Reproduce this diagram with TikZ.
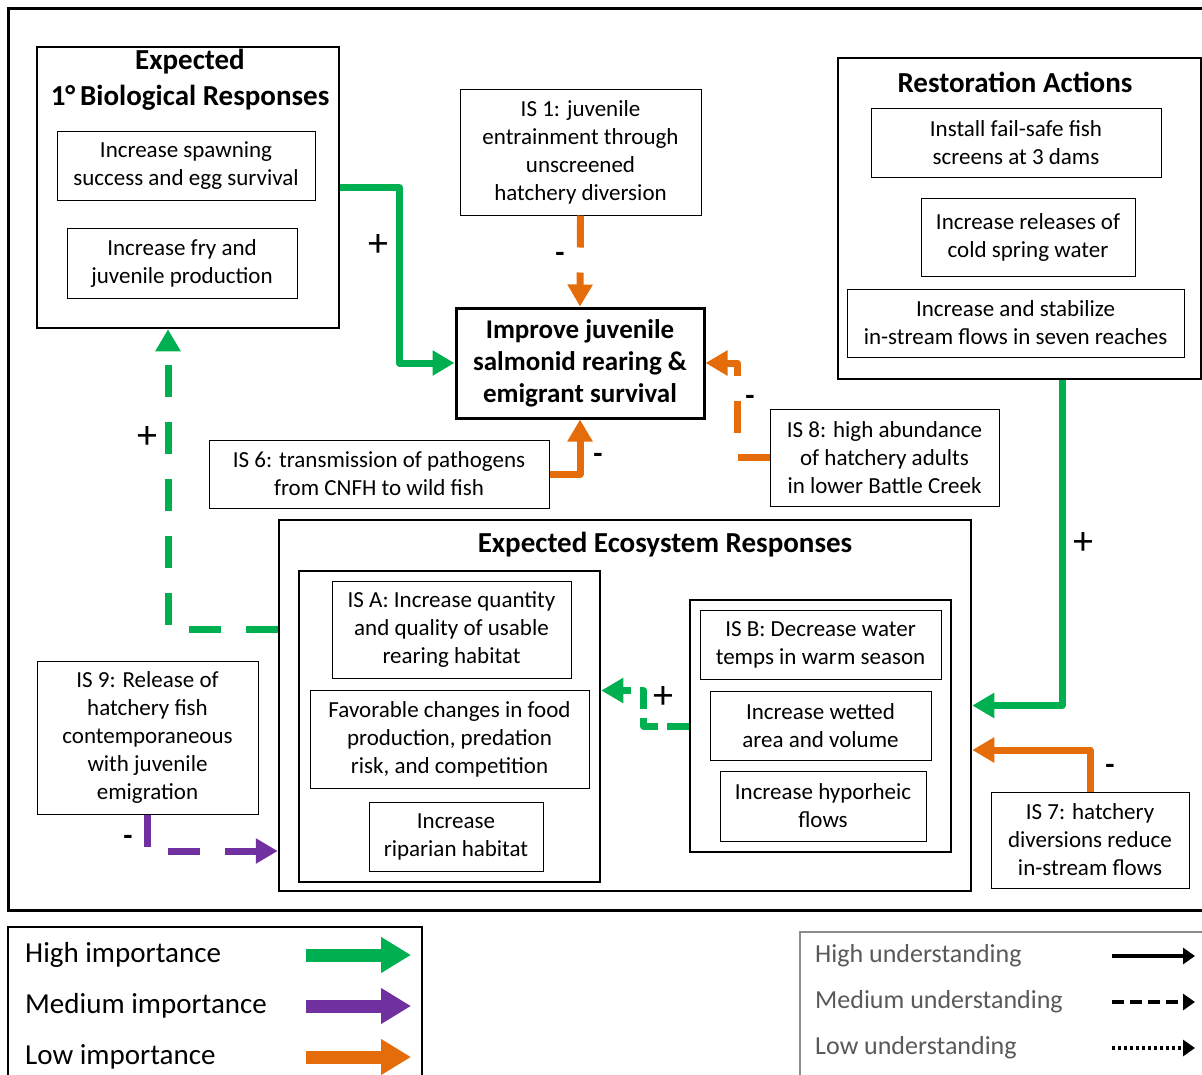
\documentclass[tikz,border=0pt]{standalone}
\usepackage{fontspec}
\setmainfont{Carlito}
\usetikzlibrary{arrows.meta}

\definecolor{cgreen}{RGB}{0,176,80}
\definecolor{corange}{RGB}{228,108,10}
\definecolor{cpurple}{RGB}{112,48,160}
\definecolor{lgray}{RGB}{89,89,89}

\tikzset{
  txt/.style={font=\fontsize{23}{28}\selectfont, align=center},
  bx/.style={txt, draw, line width=1pt, inner sep=0pt},
  grp/.style={draw, line width=2.5pt, inner sep=0pt},
  ttl/.style={font=\fontsize{29}{36}\selectfont\bfseries, align=center, inner sep=0pt},
  conn/.style={line width=7pt, line join=round, -{Triangle[width=24pt,length=22pt]}},
  dsh/.style={dash pattern=on 32pt off 25pt},
  shortdsh/.style={dash pattern=on 22pt off 9pt},
  sgn/.style={font=\fontsize{40}{40}\selectfont, inner sep=0pt},
  neg/.style={font=\fontsize{30}{30}\selectfont\bfseries, inner sep=0pt},
  legtxt/.style={font=\fontsize{29}{32}\selectfont, anchor=west, inner sep=0pt},
  undtxt/.style={font=\fontsize{26}{30}\selectfont, text=lgray, anchor=west, inner sep=0pt},
  imparrow/.style={line width=13pt, -{Triangle[width=34pt,length=30pt]}},
  undarrow/.style={line width=4pt, black, -{Triangle[width=16pt,length=12pt]}},
}

\begin{document}
\begin{tikzpicture}[x=1pt,y=-1pt]
\useasboundingbox (0,0) rectangle (1202,1074);

% outer frame
\draw[line width=3pt] (8,8) rectangle (1206,910);

% group containers
\node[grp, minimum width=302pt, minimum height=281pt] (bio) at (188,187.5) {};
\node[grp, minimum width=363pt, minimum height=321pt] (rest) at (1019.5,218.5) {};
\node[grp, minimum width=692pt, minimum height=371pt] (eco) at (625,705.5) {};
\node[grp, minimum width=301pt, minimum height=311pt] (lbox) at (449.5,726.5) {};
\node[grp, minimum width=261pt, minimum height=252pt] (rbox) at (820.5,726) {};

% group titles
\node[ttl] (biot) at (190,80) {Expected\\1°\,Biological Responses};
\node[ttl] (restt) at (1015,82) {Restoration Actions};
\node[ttl] (ecot) at (665,545) {Expected Ecosystem Responses};

% biological responses
\node[bx, minimum width=258pt, minimum height=69pt] (spawn) at (186,165.5) {Increase spawning\\success and egg survival};
\node[bx, minimum width=230pt, minimum height=70pt] (fry) at (182,263) {Increase fry and\\juvenile production};

% central outcome
\node[draw, line width=3pt, inner sep=0pt, align=center, minimum width=248pt, minimum height=110pt,
      font=\fontsize{27}{32}\selectfont\bfseries] (goal) at (580,363)
      {Improve juvenile\\salmonid rearing \&\\emigrant survival};

% stressors around the outcome
\node[bx, minimum width=241pt, minimum height=126pt] (is1) at (580.5,152) {IS 1: juvenile\\entrainment through\\unscreened\\hatchery diversion};
\node[bx, minimum width=229pt, minimum height=97pt] (is8) at (884.5,457.5) {IS 8: high abundance\\of hatchery adults\\in lower Battle Creek};
\node[bx, minimum width=340pt, minimum height=68pt] (is6) at (379,474) {IS 6: transmission of pathogens\\from CNFH to wild fish};

% restoration actions
\node[bx, minimum width=290pt, minimum height=69pt] (screens) at (1016,142.5) {Install fail-safe fish\\screens at 3 dams};
\node[bx, minimum width=214pt, minimum height=78pt] (cold) at (1028,237) {Increase releases of\\cold spring water};
\node[bx, minimum width=337pt, minimum height=68pt] (flows) at (1015.5,323) {Increase and stabilize\\in-stream flows in seven reaches};

% ecosystem responses
\node[bx, minimum width=239pt, minimum height=97pt] (isa) at (451.5,629.5) {IS A: Increase quantity\\and quality of usable\\rearing habitat};
\node[bx, minimum width=279pt, minimum height=98pt] (food) at (449.5,739) {Favorable changes in food\\production, predation\\risk, and competition};
\node[bx, minimum width=174pt, minimum height=69pt] (ripa) at (456,836.5) {Increase\\riparian habitat};
\node[bx, minimum width=241pt, minimum height=69pt] (isb) at (820.5,644.5) {IS B: Decrease water\\temps in warm season};
\node[bx, minimum width=221pt, minimum height=69pt] (wet) at (820.5,725.5) {Increase wetted\\area and volume};
\node[bx, minimum width=206pt, minimum height=70pt] (hyp) at (823,806) {Increase hyporheic\\flows};

% lower stressors
\node[bx, minimum width=221pt, minimum height=153pt] (is9) at (147.5,737.5) {IS 9: Release of\\hatchery fish\\contemporaneous\\with juvenile\\emigration};
\node[bx, minimum width=198pt, minimum height=96pt] (is7) at (1090,840) {IS 7: hatchery\\diversions reduce\\in-stream flows};

% connectors
\draw[conn, cgreen] (bio.east) -- ++(59,0) |- (goal.west);
\draw[conn, corange, dsh] (is1.south) -- (goal.north);
\draw[conn, corange, dsh] (is8.west) -- ++(-32,0) |- (goal.east);
\draw[conn, corange] (is6.east) -| (goal.south);
\draw[conn, cgreen, dsh] (eco.west |- isa) -| ([xshift=-20pt]bio.south);
\draw[conn, cgreen] ([xshift=42.5pt]rest.south) |- (eco.east);
\draw[conn, corange] (is7.north) |- ([yshift=-44.5pt]eco.east);
\draw[conn, cgreen, shortdsh] (rbox.west) -- ++(-45,0) |- ([yshift=36pt]lbox.east);
\draw[conn, cpurple, dsh] (is9.south) |- ([yshift=-145.5pt]eco.west);

% signs
\node[sgn] (s1) at (378,245) {+};
\node[neg] (s2) at (560,257) {-};
\node[neg] (s3) at (750,400) {-};
\node[neg] (s4) at (598,458) {-};
\node[sgn] (s5) at (147,437) {+};
\node[sgn] (s6) at (1083,543) {+};
\node[neg] (s7) at (1110,769) {-};
\node[sgn] (s8) at (663,697) {+};
\node[neg] (s9) at (128,840) {-};

% legend: importance
\draw[line width=2pt] (8,927) rectangle (422,1090);
\node[legtxt] (lh) at (25,955) {High importance};
\node[legtxt] (lm) at (25,1006) {Medium importance};
\node[legtxt] (ll) at (25,1057) {Low importance};
\coordinate (lha) at (306,955);  \coordinate (lhb) at (411,955);
\coordinate (lma) at (306,1006); \coordinate (lmb) at (411,1006);
\coordinate (lla) at (306,1057); \coordinate (llb) at (411,1057);
\draw[imparrow, cgreen] (lha) -- (lhb);
\draw[imparrow, cpurple] (lma) -- (lmb);
\draw[imparrow, corange] (lla) -- (llb);

% legend: understanding
\draw[line width=1.2pt, black!45] (800,932) rectangle (1212,1090);
\node[undtxt] (uh) at (815,956) {High understanding};
\node[undtxt] (um) at (815,1002) {Medium understanding};
\node[undtxt] (ul) at (815,1048) {Low understanding};
\coordinate (uha) at (1112,956);  \coordinate (uhb) at (1195,956);
\coordinate (uma) at (1112,1002); \coordinate (umb) at (1195,1002);
\coordinate (ula) at (1112,1048); \coordinate (ulb) at (1195,1048);
\draw[undarrow] (uha) -- (uhb);
\draw[undarrow, dash pattern=on 12pt off 6pt] (uma) -- (umb);
\draw[undarrow, dash pattern=on 3pt off 3pt] (ula) -- (ulb);
\end{tikzpicture}
\end{document}
